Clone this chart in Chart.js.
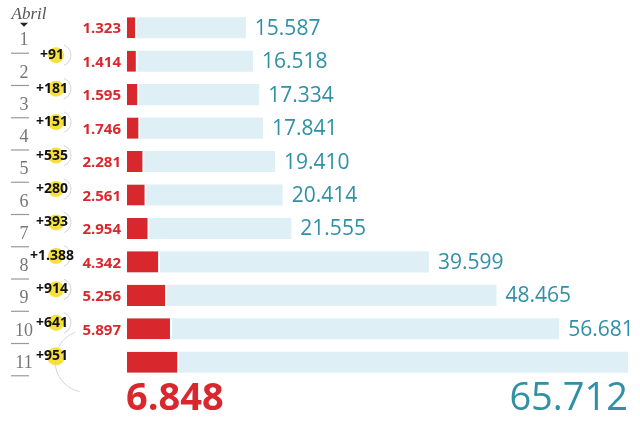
<!DOCTYPE html>
<html>
<head>
<meta charset="utf-8">
<script src="https://cdn.jsdelivr.net/npm/chart.js@4/dist/chart.umd.min.js"></script>
<style>
html,body{margin:0;padding:0;background:#fff;}
canvas{display:block;}
</style>
</head>
<body>
<canvas id="c" width="640" height="424"></canvas>
<script>
const monthLabel = 'Abril';
const days = ['1','2','3','4','5','6','7','8','9','10','11'];
const deaths = [1323,1414,1595,1746,2281,2561,2954,4342,5256,5897,6848];
const cases = [15587,16518,17334,17841,19410,20414,21555,39599,48465,56681,65712];
const increments = ['+91','+181','+151','+535','+280','+393','+1.388','+914','+641','+951'];

const RED = '#d8282e';
const LIGHT = '#def0f5';
const TEAL = '#3090a6';

function fmt(v){ return String(v).replace(/\B(?=(\d{3})+(?!\d))/g,'.'); }

const overlayPlugin = {
  id:'overlay',
  afterDatasetsDraw(chart){
    const ctx = chart.ctx;
    const x = chart.scales.x, y = chart.scales.y;
    const x0 = x.getPixelForValue(0);
    const last = days.length - 1;
    ctx.save();
    ctx.textBaseline = 'middle';
    // red & teal value labels
    for (let i = 0; i < last; i++){
      const yc = y.getPixelForValue(i);
      ctx.fillStyle = RED;
      ctx.font = 'bold 15px "Open Sans"';
      ctx.textAlign = 'right';
      ctx.fillText(fmt(deaths[i]), x0 - 6, yc + 1.5);
      ctx.fillStyle = TEAL;
      ctx.font = '21px "Open Sans"';
      ctx.textAlign = 'left';
      ctx.fillText(fmt(cases[i]), x.getPixelForValue(cases[i]) + 9, yc + 1);
    }
    // totals at bottom
    const yl = y.getPixelForValue(last) + 37;
    ctx.fillStyle = RED;
    ctx.font = 'bold 38px "Open Sans"';
    ctx.textAlign = 'left';
    ctx.fillText(fmt(deaths[last]), x0 - 1, yl);
    ctx.fillStyle = TEAL;
    ctx.font = '38px "Open Sans"';
    ctx.textAlign = 'right';
    ctx.fillText(fmt(cases[last]), x.getPixelForValue(cases[last]), yl);

    // left panel: month label and pointer
    const y0 = y.getPixelForValue(0);
    ctx.fillStyle = '#555';
    ctx.font = 'italic 17px "Liberation Serif"';
    ctx.textAlign = 'center';
    ctx.fillText(monthLabel, 29, y0 - 13);
    ctx.fillStyle = '#222';
    ctx.beginPath();
    ctx.moveTo(20, y0 - 5);
    ctx.lineTo(28, y0 - 5);
    ctx.lineTo(24, y0 - 1);
    ctx.closePath();
    ctx.fill();

    // day numbers and separators
    for (let i = 0; i < days.length; i++){
      const dy = y.getPixelForValue(i) + 13 - 1.2 * i;
      ctx.fillStyle = '#767676';
      ctx.font = '18px "Liberation Serif"';
      ctx.textAlign = 'center';
      ctx.fillText(days[i], 24, dy);
      ctx.strokeStyle = '#999';
      ctx.lineWidth = 1.2;
      ctx.beginPath();
      ctx.moveTo(11, dy + 12.5);
      ctx.lineTo(29, dy + 12.5);
      ctx.stroke();
    }

    // increments
    for (let j = 0; j < increments.length; j++){
      const i = j + 1;
      const iy = y.getPixelForValue(i) - 6;
      const isLast = i === last;
      // gray connector arcs
      ctx.strokeStyle = 'rgba(180,180,180,0.55)';
      ctx.lineWidth = 1;
      ctx.beginPath();
      if (isLast){
        ctx.arc(86, iy + 5, 31, 102 * Math.PI / 180, 250 * Math.PI / 180);
      } else {
        ctx.arc(60, iy, 11, -70 * Math.PI / 180, 70 * Math.PI / 180);
      }
      ctx.stroke();
      // yellow highlight
      ctx.fillStyle = 'rgba(246,222,52,0.95)';
      ctx.beginPath();
      ctx.arc(56, iy, isLast ? 9 : 8, 0, Math.PI * 2);
      ctx.fill();
      ctx.fillStyle = '#111';
      ctx.font = 'bold 14px "Open Sans"';
      ctx.textAlign = 'center';
      ctx.fillText(increments[j], 52, iy);
    }
    ctx.restore();
  }
};

new Chart(document.getElementById('c'), {
  type: 'bar',
  data: {
    labels: days,
    datasets: [
      {
        label: 'Fallecidos',
        data: deaths,
        backgroundColor: RED,
        borderColor: '#ffffff',
        borderWidth: {top:0, right:2, bottom:0, left:0},
        borderSkipped: 'start',
        grouped: false,
        order: 0,
        barPercentage: 0.63,
        categoryPercentage: 1
      },
      {
        label: 'Contagiados',
        data: cases,
        backgroundColor: LIGHT,
        borderWidth: 0,
        grouped: false,
        order: 1,
        barPercentage: 0.63,
        categoryPercentage: 1
      }
    ]
  },
  options: {
    indexAxis: 'y',
    responsive: false,
    animation: false,
    layout: { padding: { left: 127, right: 12, top: 11, bottom: 45 } },
    plugins: { legend: { display: false }, tooltip: { enabled: false } },
    scales: {
      x: { display: false, min: 0, max: 65712 },
      y: { display: false }
    }
  },
  plugins: [overlayPlugin]
});
</script>
</body>
</html>
